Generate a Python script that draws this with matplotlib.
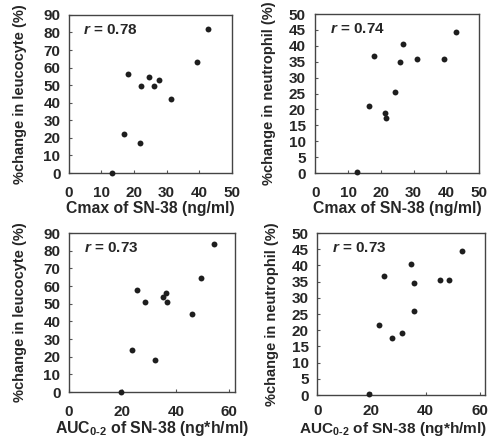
"""Scatter panels: % change in leucocyte / neutrophil vs SN-38 Cmax and AUC0-2."""

import matplotlib

matplotlib.use("Agg")
import matplotlib.pyplot as plt

# Cmax of SN-38 (ng/ml) vs % change in leucocyte
cmax_leu_x = [13.4, 16.9, 18.3, 21.8, 22.2, 24.6, 26.1, 27.6, 31.5, 39.4, 42.6]
cmax_leu_y = [0.0, 22.2, 56.3, 16.9, 49.6, 54.9, 49.4, 52.7, 42.4, 63.3, 81.8]

# Cmax of SN-38 (ng/ml) vs % change in neutrophil
cmax_neu_x = [12.6, 16.3, 17.9, 21.4, 21.6, 24.3, 25.7, 26.8, 31.0, 39.3, 42.8]
cmax_neu_y = [0.2, 21.2, 36.9, 18.8, 17.3, 25.6, 34.8, 40.5, 35.8, 35.8, 44.4]

# AUC0-2 of SN-38 (ng*h/ml) vs % change in leucocyte
auc_leu_x = [19.4, 23.7, 25.4, 28.4, 32.2, 35.2, 36.2, 36.6, 46.2, 49.5, 54.1]
auc_leu_y = [0.0, 23.6, 57.6, 50.9, 18.1, 53.8, 56.1, 50.9, 44.1, 64.6, 83.6]

# AUC0-2 of SN-38 (ng*h/ml) vs % change in neutrophil
auc_neu_x = [19.0, 23.0, 24.7, 27.8, 31.4, 34.7, 35.9, 35.7, 45.3, 48.7, 53.4]
auc_neu_y = [0.2, 21.6, 36.8, 17.7, 19.3, 40.5, 34.6, 25.8, 35.5, 35.5, 44.4]

r_values = ["0.78", "0.74", "0.73", "0.73"]
x_labels = [
    "Cmax of SN-38 (ng/ml)",
    "Cmax of SN-38 (ng/ml)",
    r"AUC$_{0\text{-}2}$ of SN-38 (ng*h/ml)",
    r"AUC$_{0\text{-}2}$ of SN-38 (ng*h/ml)",
]
y_labels = [
    "%change in leucocyte (%)",
    "%change in neutrophil (%)",
    "%change in leucocyte (%)",
    "%change in neutrophil (%)",
]

TEXT = "#262626"

plt.rcParams["font.family"] = ["Liberation Sans", "DejaVu Sans"]
plt.rcParams["font.weight"] = "bold"
plt.rcParams["mathtext.fontset"] = "custom"
plt.rcParams["mathtext.rm"] = "Liberation Sans:bold"
plt.rcParams["mathtext.bf"] = "Liberation Sans:bold"
plt.rcParams["mathtext.it"] = "Liberation Sans:bold:italic"
plt.rcParams["mathtext.default"] = "bf"


def main() -> None:
    fig = plt.figure(figsize=(4.88, 4.38), dpi=100)
    positions = [
        [0.141, 0.605, 0.334, 0.361],
        [0.646, 0.605, 0.336, 0.363],
        [0.141, 0.105, 0.340, 0.363],
        [0.650, 0.098, 0.344, 0.370],
    ]
    data = [
        (cmax_leu_x, cmax_leu_y, 50, 50, 10, 90, 10),
        (cmax_neu_x, cmax_neu_y, 50, 50, 10, 50, 5),
        (auc_leu_x, auc_leu_y, 62, 60, 20, 90, 10),
        (auc_neu_x, auc_neu_y, 62, 60, 20, 50, 5),
    ]
    ypads = [(6, 12), (7, 9), (6, 12), (6, 9)]
    xpads = [9, 9, 9, 6.5]
    xlabel_x = [0.5, 0.5, 0.5, 0.45]
    xlabel_y = [-0.225, -0.225, -0.228, -0.212]
    xlabel_size = [11.3, 11.3, 11.4, 11.1]
    for i, (pos, (xs, ys, xlim, xmax, xstep, ymax, ystep)) in enumerate(zip(positions, data)):
        ax = fig.add_axes(pos)
        ax.scatter(xs, ys, s=18, color="#1e1e1e", clip_on=False, zorder=3, linewidths=0)
        ax.set_xlim(0, xlim)
        ax.set_ylim(0, ymax)
        ax.set_xticks(range(0, xmax + 1, xstep))
        ax.set_yticks(range(0, ymax + 1, ystep))
        ax.tick_params(direction="in", length=2.5, width=0.8,
                       labelsize=11, colors="#555555", labelcolor=TEXT)
        ax.tick_params(axis="x", pad=xpads[i])
        ax.tick_params(axis="y", pad=ypads[i][0])
        for label in ax.get_xticklabels() + ax.get_yticklabels():
            label.set_fontweight("bold")
        for spine in ax.spines.values():
            spine.set_linewidth(1.0)
            spine.set_color("#444444")
        ax.set_xlabel(x_labels[i], fontsize=xlabel_size[i], fontweight="bold",
                      color=TEXT, labelpad=0)
        ax.xaxis.set_label_coords(xlabel_x[i], xlabel_y[i])
        ax.xaxis.label.set_va("center")
        ax.set_ylabel(y_labels[i], fontsize=10.5, fontweight="bold", color=TEXT,
                      labelpad=ypads[i][1])
        ax.text(0.09, 0.905, r"$\mathit{r}$ = " + r_values[i], transform=ax.transAxes,
                fontsize=11, color=TEXT, va="center", ha="left")
    fig.savefig("out.png", dpi=100)
    plt.close(fig)


if __name__ == "__main__":
    main()
